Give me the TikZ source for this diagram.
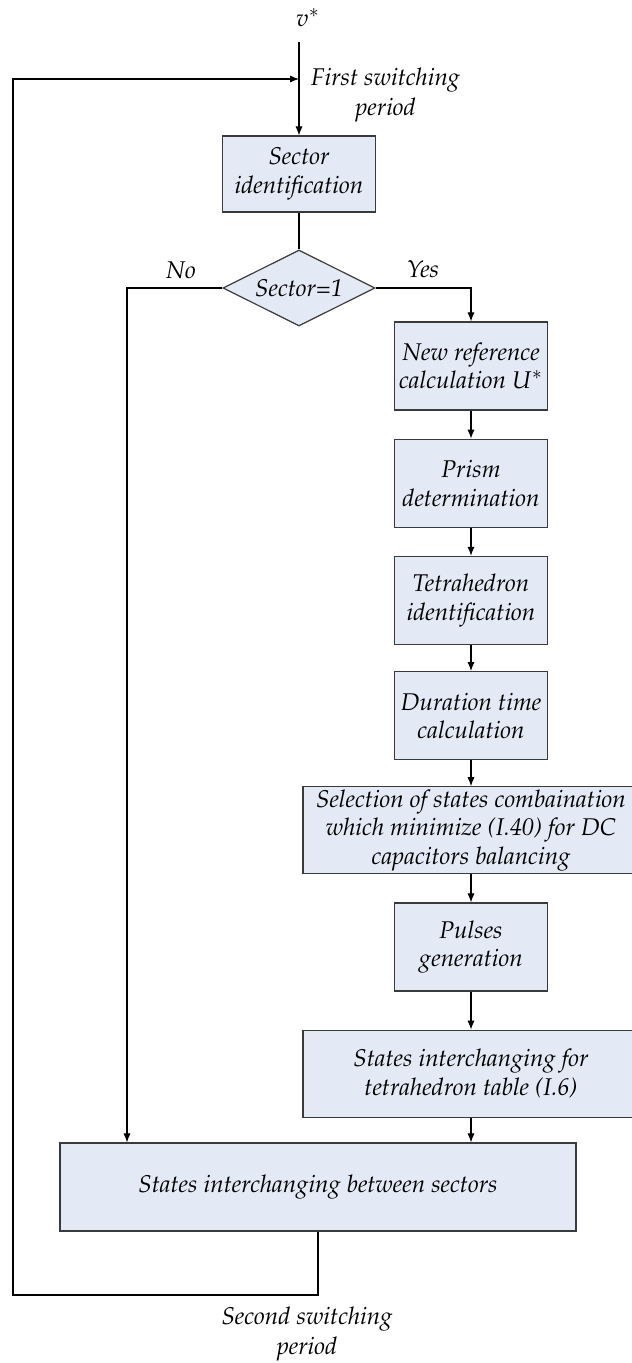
\documentclass[tikz,border=0pt]{standalone}
\usepackage[T1]{fontenc}
\usepackage{mathpazo}
\usepackage{tikz}
\usetikzlibrary{shapes.geometric, arrows.meta, positioning, calc}
\definecolor{box-fill}{HTML}{E4EAF5}
\definecolor{box-line}{HTML}{3A3A3A}

\begin{document}
\begin{tikzpicture}[
    x=0.5pt, y=-0.5pt,
    node distance=14pt and 14pt,
    font=\fontsize{12.1}{14.2}\selectfont\itshape,
    stepbox/.style={draw=box-line, line width=0.6pt, fill=box-fill, align=center, minimum width=76.5pt, minimum height=44pt, inner sep=1pt},
    widebox/.style={stepbox, minimum width=168pt, minimum height=43.5pt},
    decision/.style={draw=box-line, line width=0.6pt, fill=box-fill, diamond, aspect=2, minimum width=76pt, minimum height=38pt, inner sep=0pt},
    link/.style={-{Latex[length=4.5pt, width=3.6pt]}, line width=0.55pt, draw=black},
    wire/.style={line width=0.55pt, draw=black},
    note/.style={align=center, font=\fontsize{12.1}{15}\selectfont\itshape}
]
    \useasboundingbox (0,0) rectangle (631,1363);

    % --- Nodes Definitions ---
    % Main column
    \node (vref) at (308,18) {$v^{*}$};
    \coordinate (start) at (299,42);
    \node (sector) [stepbox, minimum height=38pt] at (299,174) {Sector\\identification};
    \node (check) [decision] at (299,288) {Sector=1};
    \node (first) [note, anchor=west] at (304,95) {First switching\\period};
    \node (no) at (181,270) {No};
    \node (yes) at (423,269) {Yes};

    % Sector 1 branch
    \node (newref) [stepbox] at (471,366) {New reference\\calculation $U^{*}$};
    \node (prism) [stepbox, below=of newref] {Prism\\determination};
    \node (tetra) [stepbox, below=of prism] {Tetrahedron\\identification};
    \node (duration) [stepbox, below=13pt of tetra] {Duration time\\calculation};
    \node (select) [widebox, below=13pt of duration] {Selection of states combaination\\which minimize (I.40) for DC\\capacitors balancing};
    \node (pulses) [stepbox, below=of select] {Pulses\\generation};
    \node (swap) [widebox, below=19pt of pulses] {States interchanging for\\tetrahedron table (I.6)};

    % Common end
    \node (between) [stepbox, minimum width=258pt] at (318,1187) {States interchanging between sectors};
    \node (second) [note] at (307,1334) {Second switching\\period};
    \coordinate (nocol) at (127,0);
    \coordinate (turn) at (13,1295);
    \coordinate (feed) at (13,79);

    % --- Connections ---
    \draw [link] (start) -- (sector.north);
    \draw [wire] (sector.south) -- (check.north);
    \draw [link] (check.east) -| (newref.north);
    \draw [link] (check.west) -| (nocol |- between.north);
    \foreach \a/\b in {newref/prism, prism/tetra, tetra/duration, duration/select, select/pulses, pulses/swap}
        \draw [link] (\a.south) -- (\b.north);
    \draw [link] (swap.south) -- (swap.south |- between.north);
    \draw [link] (between.south) |- (turn) -- (feed) -- (feed -| start);

\end{tikzpicture}
\end{document}
